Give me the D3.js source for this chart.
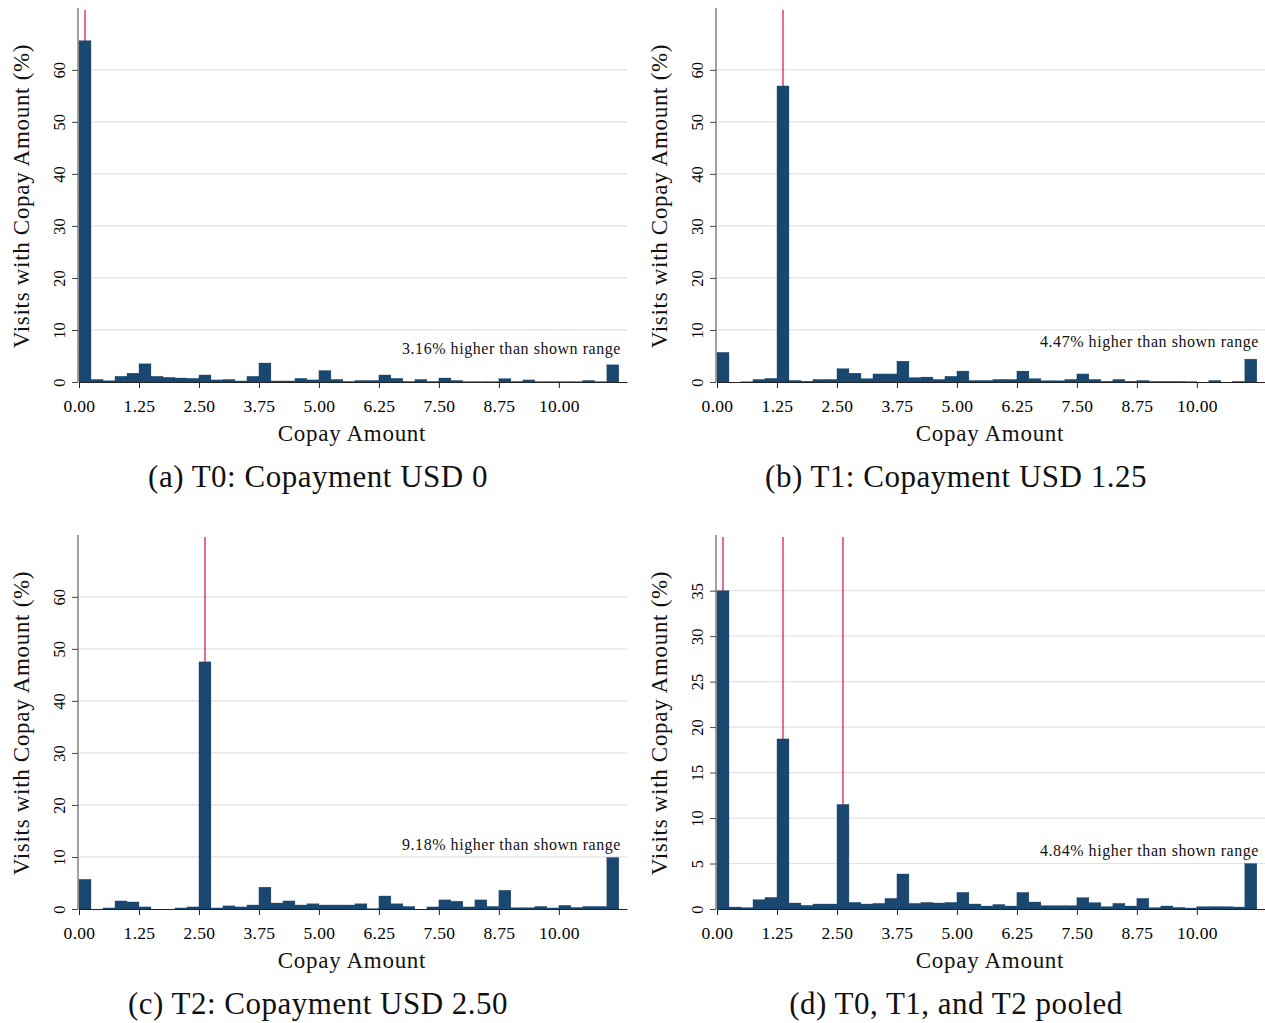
<!DOCTYPE html>
<html>
<head>
<meta charset="utf-8">
<script src="https://cdn.jsdelivr.net/npm/d3@7"></script>
<style>
  body { margin: 0; background: #fff; }
  svg { display: block; font-family: "Liberation Serif", "Times New Roman", serif; }
</style>
</head>
<body>
<div id="chart"></div>
<script>
// bins are 0.25 wide, starting at 0.00; last bin also holds the overflow
const binWidth = 0.25;
const binStarts = d3.range(45).map(i => i * binWidth);

const t0Values = [65.6, 0.5, 0.25, 1.1, 1.7, 3.5, 1.1, 0.9, 0.77, 0.7, 1.35, 0.4, 0.5, 0.2, 1.1, 3.65,
  0.2, 0.2, 0.7, 0.4, 2.2, 0.5, 0.1, 0.3, 0.3, 1.35, 0.7, 0.1, 0.5, 0.1, 0.77, 0.3, 0.05, 0.05, 0.05,
  0.65, 0.1, 0.4, 0.05, 0.05, 0.05, 0.05, 0.3, 0.05, 3.3];
const t1Values = [5.7, 0, 0.03, 0.5, 0.7, 56.9, 0.3, 0.15, 0.5, 0.5, 2.56, 1.7, 0.65, 1.55, 1.55, 4.0,
  0.85, 0.95, 0.5, 1.1, 2.1, 0.3, 0.3, 0.5, 0.5, 2.1, 0.65, 0.25, 0.25, 0.5, 1.55, 0.5, 0.15, 0.5, 0.15,
  0.3, 0.12, 0.12, 0.12, 0.07, 0, 0.3, 0, 0.12, 4.4];
const t2Values = [5.7, 0, 0.2, 1.55, 1.35, 0.4, 0, 0, 0.2, 0.4, 47.5, 0.2, 0.6, 0.4, 0.77, 4.2,
  1.15, 1.55, 0.77, 1.0, 0.77, 0.77, 0.77, 1.0, 0.05, 2.5, 1.0, 0.5, 0, 0.4, 1.75, 1.5, 0.4, 1.75, 0.5,
  3.6, 0.25, 0.25, 0.5, 0.2, 0.7, 0.3, 0.5, 0.5, 9.9];
const pooledValues = [35.0, 0.22, 0.15, 1.03, 1.28, 18.7, 0.66, 0.4, 0.55, 0.55, 11.5, 0.73, 0.55, 0.62, 1.17, 3.85,
  0.62, 0.73, 0.66, 0.73, 1.83, 0.55, 0.33, 0.5, 0.33, 1.83, 0.77, 0.37, 0.37, 0.37, 1.25, 0.7, 0.26, 0.62, 0.33,
  1.17, 0.15, 0.33, 0.18, 0.11, 0.26, 0.26, 0.26, 0.22, 5.0];

const xTicks = [0, 1.25, 2.5, 3.75, 5, 6.25, 7.5, 8.75, 10];
const xTickLabels = ["0.00", "1.25", "2.50", "3.75", "5.00", "6.25", "7.50", "8.75", "10.00"];
const yTicksPct = [0, 10, 20, 30, 40, 50, 60];
const yTicksPooled = [0, 5, 10, 15, 20, 25, 30, 35];

const captions = ["(a) T0: Copayment USD 0", "(b) T1: Copayment USD 1.25",
  "(c) T2: Copayment USD 2.50", "(d) T0, T1, and T2 pooled"];
const notes = ["3.16% higher than shown range", "4.47% higher than shown range",
  "9.18% higher than shown range", "4.84% higher than shown range"];
const copayLines = [[0.125], [1.375], [2.625], [0.125, 1.375, 2.625]];

const panels = [
  { values: t0Values, yMax: 71.5, yTicks: yTicksPct, left: 79, top: 10, noteY: 5.4 },
  { values: t1Values, yMax: 71.5, yTicks: yTicksPct, left: 717, top: 10, noteY: 6.7 },
  { values: t2Values, yMax: 71.5, yTicks: yTicksPct, left: 79, top: 537, noteY: 11.4 },
  { values: pooledValues, yMax: 40.9, yTicks: yTicksPooled, left: 717, top: 537, noteY: 5.8 }
];

const width = 1265, height = 1023;
const plotW = 548, plotH = 372;
const barColor = "#1a476f";
const lineColor = "#dc1f4e";

const svg = d3.select("#chart").append("svg")
  .attr("width", width)
  .attr("height", height);

panels.forEach((p, k) => {
  const g = svg.append("g").attr("transform", `translate(${p.left},${p.top})`);
  const x = d3.scaleLinear().domain([0, 11.42]).range([0, plotW]);
  const y = d3.scaleLinear().domain([0, p.yMax]).range([plotH, 0]);

  // grid
  g.append("g").selectAll("line")
    .data(p.yTicks.slice(1))
    .join("line")
    .attr("x1", 0).attr("x2", plotW)
    .attr("y1", d => y(d)).attr("y2", d => y(d))
    .attr("stroke", "#e2e2e2").attr("stroke-width", 1.2);

  // copay markers
  g.append("g").selectAll("line")
    .data(copayLines[k])
    .join("line")
    .attr("x1", d => x(d)).attr("x2", d => x(d))
    .attr("y1", 0).attr("y2", plotH)
    .attr("stroke", lineColor).attr("stroke-width", 1.3);

  // bars
  g.append("g").selectAll("rect")
    .data(p.values)
    .join("rect")
    .attr("x", (d, i) => x(binStarts[i]))
    .attr("width", x(binWidth) - x(0))
    .attr("y", d => y(d))
    .attr("height", d => y(0) - y(d))
    .attr("fill", barColor)
    .attr("stroke", barColor)
    .attr("stroke-width", 0.3);

  // y axis
  const yAxis = g.append("g").attr("transform", "translate(-1,0)")
    .call(d3.axisLeft(y).tickValues(p.yTicks).tickSize(6).tickSizeOuter(0));
  yAxis.select(".domain").attr("stroke", "#444").attr("d", `M0,${plotH}V-2`);
  yAxis.selectAll(".tick line").attr("stroke", "#444");
  yAxis.selectAll(".tick text")
    .attr("font-size", 16.5)
    .attr("font-family", "Liberation Serif, serif")
    .attr("text-anchor", "middle")
    .attr("x", 0).attr("y", 0).attr("dy", 0)
    .attr("transform", "translate(-13,0) rotate(-90)");

  // x axis
  const xAxis = g.append("g").attr("transform", `translate(0,${plotH})`)
    .call(d3.axisBottom(x).tickValues(xTicks).tickFormat((d, i) => xTickLabels[i]).tickSize(6).tickSizeOuter(0));
  xAxis.select(".domain").attr("stroke", "#222");
  xAxis.selectAll(".tick line").attr("stroke", "#222");
  xAxis.selectAll(".tick text")
    .attr("font-size", 17.5)
    .attr("font-family", "Liberation Serif, serif")
    .attr("letter-spacing", 0.3)
    .attr("y", 18);

  // titles
  g.append("text")
    .attr("x", plotW / 2 - 1).attr("y", plotH + 59)
    .attr("text-anchor", "middle")
    .attr("font-size", 23)
    .attr("letter-spacing", 0.7)
    .attr("fill", "#111")
    .text("Copay Amount");

  g.append("text")
    .attr("transform", `translate(-50,${plotH / 2}) rotate(-90)`)
    .attr("text-anchor", "middle")
    .attr("font-size", 23)
    .attr("letter-spacing", 0.7)
    .attr("fill", "#111")
    .text("Visits with Copay Amount (%)");

  g.append("text")
    .attr("x", plotW - 6).attr("y", y(p.noteY))
    .attr("text-anchor", "end")
    .attr("font-size", 16)
    .attr("letter-spacing", 0.55)
    .attr("fill", "#111")
    .text(notes[k]);

  g.append("text")
    .attr("x", 239).attr("y", plotH + 105)
    .attr("text-anchor", "middle")
    .attr("font-size", 31)
    .attr("letter-spacing", 0.5)
    .attr("fill", "#111")
    .text(captions[k]);
});
</script>
</body>
</html>
